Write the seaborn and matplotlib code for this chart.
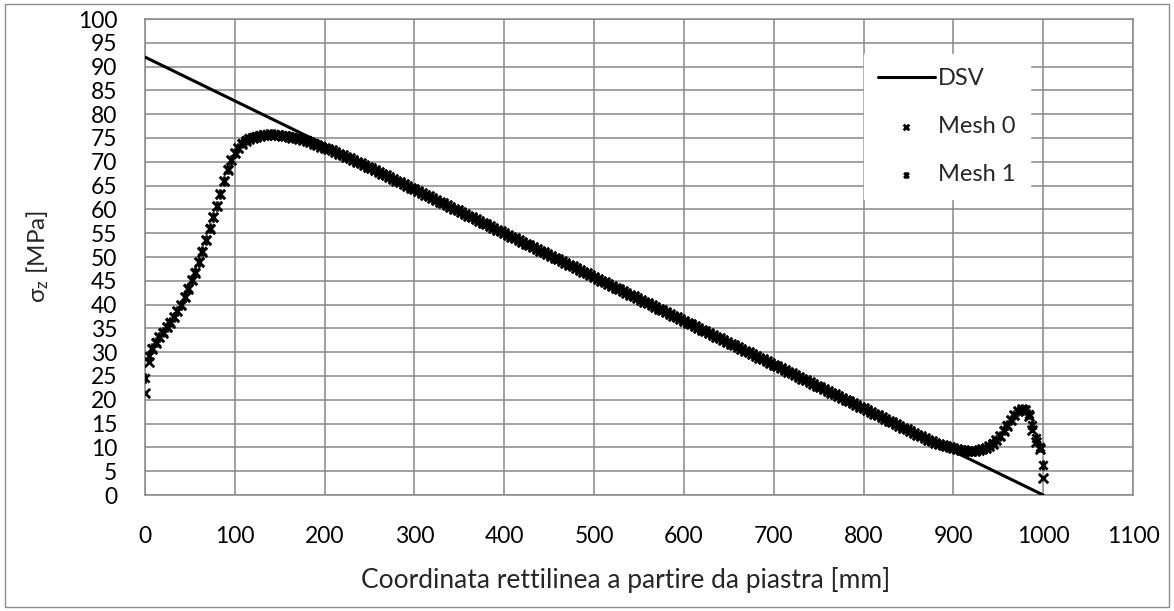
import numpy as np
import pandas as pd
import matplotlib
matplotlib.use("Agg")
import matplotlib.pyplot as plt
import seaborn as sns
from matplotlib.patches import Rectangle
from matplotlib.path import Path

# ---------------- data ----------------
dsv_x = [0, 1000]
dsv_y = [92.0, 0.0]

# node coordinates (mm) along the line, every 4 mm
mesh_x = list(range(0, 1001, 4))

# x = 0 ... 196
mesh0_start = [21.4, 28.0, 30.6, 32.0, 33.1, 34.1, 35.2, 36.2, 37.3, 38.6, 39.9, 41.5, 43.3, 45.1, 46.7,
               48.9, 51.1, 53.5, 55.9, 58.3, 60.7, 63.2, 65.9, 68.3, 70.3,
               71.8, 72.9, 73.8, 74.4, 74.8, 75.1, 75.3, 75.5, 75.6, 75.7, 75.7, 75.7, 75.6, 75.5, 75.4,
               75.3, 75.1, 75.0, 74.8, 74.6, 74.4, 74.1, 73.8, 73.5, 73.2]
mesh1_start = [24.6, 29.2, 30.9, 32.1, 33.2, 34.2, 35.3, 36.3, 37.4, 38.7, 40.0, 41.6, 43.4, 45.2, 46.8,
               49.0, 51.2, 53.6, 56.0, 58.4, 60.8, 63.3, 66.0, 68.4, 70.4,
               71.9, 73.0, 73.9, 74.5, 74.9, 75.2, 75.4, 75.6, 75.7, 75.8, 75.8, 75.8, 75.7, 75.6, 75.5,
               75.4, 75.2, 75.1, 74.9, 74.7, 74.5, 74.2, 73.9, 73.6, 73.3]

# x = 200 ... 896 (both meshes coincide)
common_mid = [73.0, 72.7, 72.4, 72.1, 71.7, 71.4, 71.1, 70.7, 70.4, 70.0, 69.7, 69.35, 68.98, 68.62, 68.25,
              67.88, 67.51, 67.14, 66.78, 66.41, 66.04, 65.67, 65.30, 64.94, 64.57,
              64.20, 63.83, 63.46, 63.10, 62.73, 62.36, 61.99, 61.62, 61.26, 60.89, 60.52, 60.15, 59.78,
              59.42, 59.05, 58.68, 58.31, 57.94, 57.58, 57.21, 56.84, 56.47, 56.10, 55.74, 55.37,
              55.00, 54.63, 54.26, 53.90, 53.53, 53.16, 52.79, 52.42, 52.06, 51.69, 51.32, 50.95, 50.58,
              50.22, 49.85, 49.48, 49.11, 48.74, 48.38, 48.01, 47.64, 47.27, 46.90, 46.54, 46.17,
              45.80, 45.43, 45.06, 44.70, 44.33, 43.96, 43.59, 43.22, 42.86, 42.49, 42.12, 41.75, 41.38,
              41.02, 40.65, 40.28, 39.91, 39.54, 39.18, 38.81, 38.44, 38.07, 37.70, 37.34, 36.97,
              36.60, 36.23, 35.86, 35.50, 35.13, 34.76, 34.39, 34.02, 33.66, 33.29, 32.92, 32.55, 32.18,
              31.82, 31.45, 31.08, 30.71, 30.34, 29.98, 29.61, 29.24, 28.87, 28.50, 28.14, 27.77,
              27.40, 27.03, 26.66, 26.30, 25.93, 25.56, 25.19, 24.82, 24.46, 24.09, 23.72, 23.35, 22.98,
              22.62, 22.25, 21.88, 21.51, 21.14, 20.78, 20.41, 20.04, 19.67, 19.30, 18.94, 18.57,
              18.20, 17.83, 17.46, 17.10, 16.73, 16.36, 15.99, 15.62, 15.26, 14.89, 14.52, 14.15, 13.78,
              13.42, 13.05, 12.68, 12.33, 11.98, 11.65, 11.32, 11.00, 10.70, 10.40, 10.20, 10.00]

# x = 900 ... 1000
mesh0_end = [9.9, 9.7, 9.5, 9.4, 9.3, 9.3, 9.3, 9.4, 9.6, 9.9, 10.3, 10.8, 11.5, 12.4, 13.5,
             14.6, 15.7, 16.8, 17.6, 18.0, 17.8, 16.6, 13.6, 11.2, 9.7, 3.5]
mesh1_end = [9.8, 9.6, 9.5, 9.4, 9.3, 9.3, 9.3, 9.4, 9.6, 9.9, 10.3, 10.9, 11.6, 12.5, 13.6,
             14.7, 15.8, 16.9, 17.7, 18.1, 17.9, 17.0, 14.8, 12.0, 10.0, 6.3]

mesh0_y = mesh0_start + common_mid + mesh0_end
mesh1_y = mesh1_start + common_mid + mesh1_end

x_ticks = list(range(0, 1101, 100))
y_ticks = list(range(0, 101, 5))

# ---------------- style ----------------
sns.set_style("white")
plt.rcParams['font.family'] = ['Lato', 'DejaVu Sans']
plt.rcParams['mathtext.default'] = 'regular'

FS_TICK = 16.5
FS_XLAB = 19
FS_YLAB = 17.5
FS_LEG = 17
W, H = 1174, 611
fig = plt.figure(figsize=(W / 100, H / 100), dpi=100)
ax = fig.add_axes([145 / W, 1 - 495 / H, (1133 - 145) / W, (495 - 19) / H])

GRID = '#878787'

# Excel-like "star" marker: an x with a vertical bar
star = Path([(-0.8, -0.8), (0.8, 0.8), (-0.8, 0.8), (0.8, -0.8), (0, -1), (0, 1)],
            [Path.MOVETO, Path.LINETO, Path.MOVETO, Path.LINETO, Path.MOVETO, Path.LINETO])

sns.lineplot(x=dsv_x, y=dsv_y, ax=ax, color='black', linewidth=2.2, label='DSV', zorder=3)
sns.scatterplot(x=mesh_x, y=mesh0_y, ax=ax, marker='x', color='black', s=46, linewidth=2.0,
                label='Mesh 0', zorder=4)
sns.scatterplot(x=mesh_x, y=mesh1_y, ax=ax, marker=star, color='black', edgecolor='black',
                s=56, linewidth=1.9, label='Mesh 1', zorder=5)

ax.set_xlim(0, 1100)
ax.set_ylim(0, 100)
ax.set_xticks(x_ticks)
ax.set_yticks(y_ticks)
ax.grid(True, color=GRID, linewidth=1.1)
ax.set_axisbelow(True)
for sp in ax.spines.values():
    sp.set_color(GRID)
    sp.set_linewidth(1.1)
ax.tick_params(axis='both', direction='out', length=6, width=1.1, color=GRID,
               labelsize=FS_TICK, labelcolor='black')
ax.tick_params(axis='x', pad=16)
ax.tick_params(axis='y', pad=14)

ax.set_xlabel('Coordinata rettilinea a partire da piastra [mm]', fontsize=FS_XLAB)
ax.xaxis.label.set_va('center')
ax.xaxis.set_label_coords((626 - 145) / 988, (495 - 580) / 476)
ax.set_ylabel('σ$_{z}$ [MPa]', fontsize=FS_YLAB)
ax.yaxis.label.set_va('center')
ax.yaxis.set_label_coords((38 - 145) / 988, 0.5)

leg = ax.legend(loc='upper left', bbox_to_anchor=(852 / W, 1 - 42 / H), bbox_transform=fig.transFigure,
                frameon=True, fancybox=False, framealpha=1, facecolor='white', edgecolor='white',
                fontsize=FS_LEG, handlelength=2.4, handletextpad=0.15, labelspacing=1.15,
                borderpad=0.6, markerscale=0.6)

fig.patches.append(Rectangle((5 / W, 4 / H), (W - 10) / W, (H - 8) / H, transform=fig.transFigure,
                             fill=False, edgecolor='#8c8c8c', linewidth=1.0))

fig.savefig('out.png', dpi=100)
